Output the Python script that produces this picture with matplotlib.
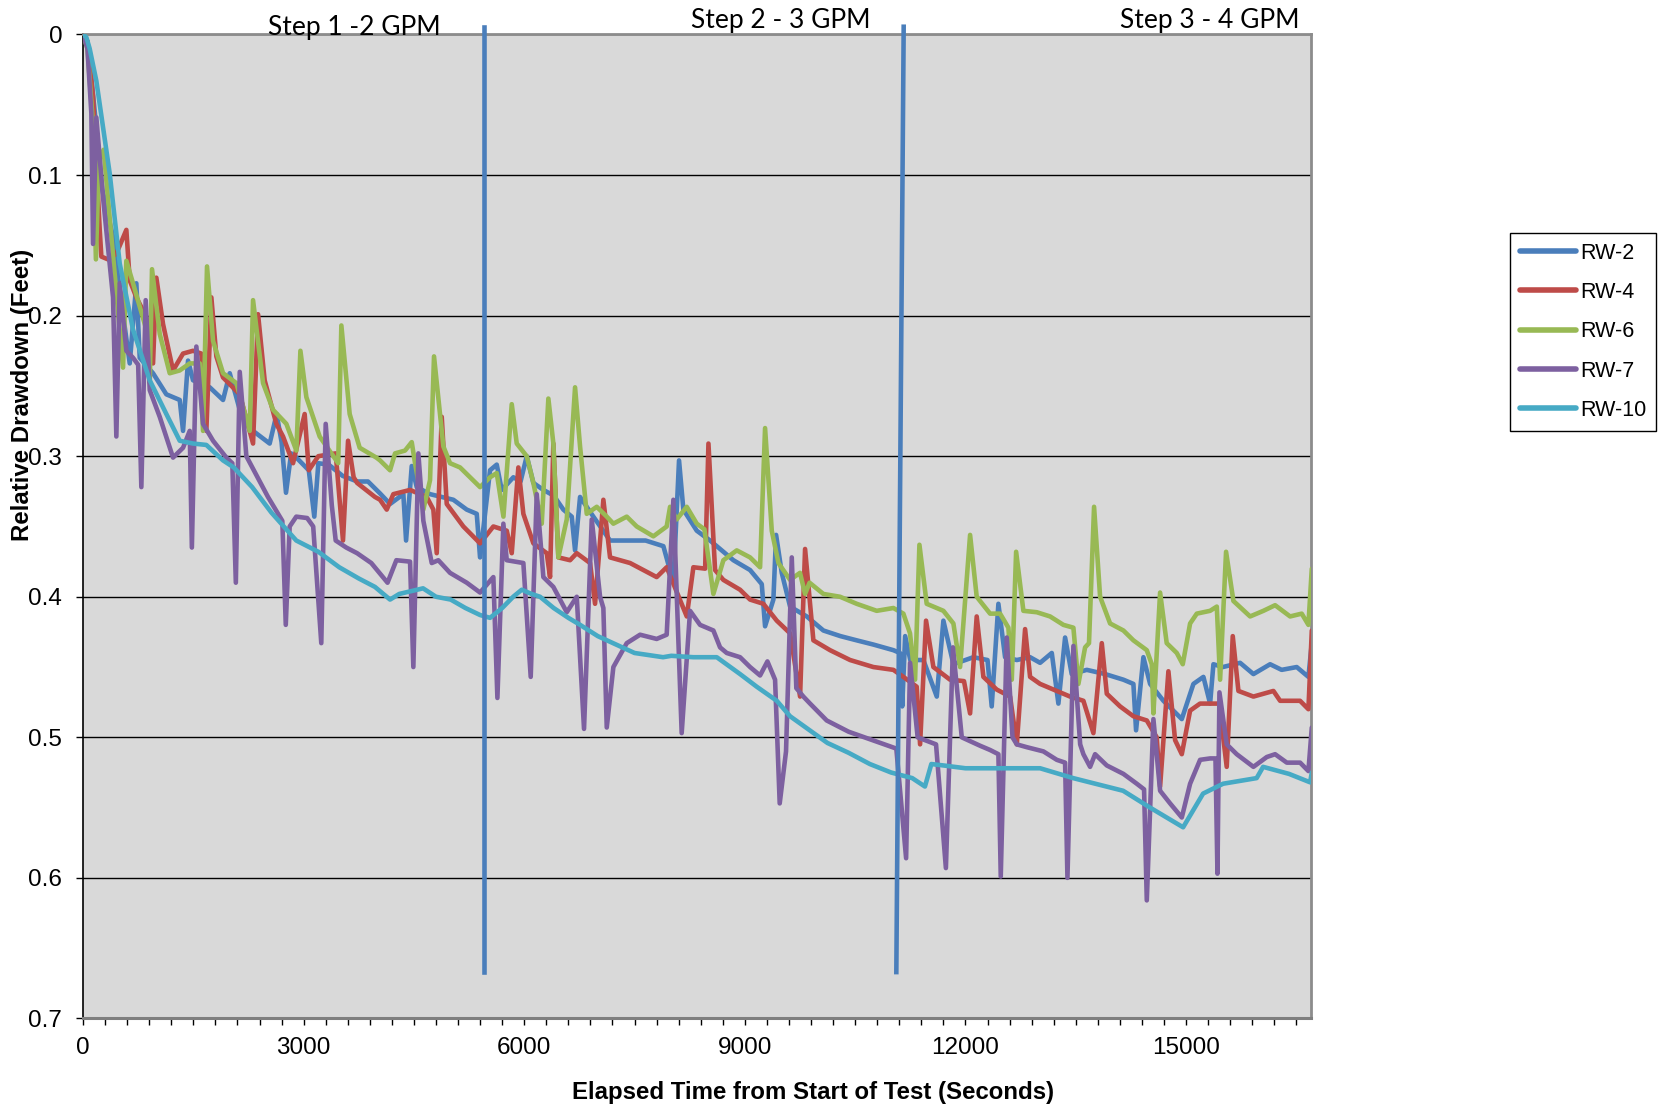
import matplotlib
matplotlib.use("Agg")
import matplotlib.pyplot as plt
from matplotlib.ticker import FixedLocator, MultipleLocator, FuncFormatter

plt.rcParams['font.family'] = ['Liberation Sans', 'DejaVu Sans']

# ---- data (elapsed seconds, relative drawdown in feet) ----
rw2_t = [0, 60, 150, 260, 408, 520, 635, 725, 771, 952, 1133, 1315, 1360, 1428, 1496, 1723, 1904, 1995,
         2131, 2312, 2538, 2633, 2700, 2760, 2830, 2901, 3070, 3145, 3200, 3340, 3530, 3730, 3875, 4039,
         4175, 4356, 4393, 4470, 4538, 4719, 5036, 5218, 5354, 5399, 5535, 5626, 5694, 5852, 5950, 6034,
         6124, 6260, 6400, 6532, 6646, 6691, 6759, 6940, 7167, 7394, 7650, 7892, 8028, 8105, 8164, 8346,
         8527, 8844, 9071, 9230, 9275, 9388, 9425, 9502, 9615, 9842, 10068, 10300, 10521, 10748, 11020,
         11110, 11140, 11180, 11250, 11428, 11610, 11700, 11836, 12108, 12300, 12357, 12448, 12539, 12698,
         12879, 13015, 13174, 13264, 13355, 13445, 13650, 13900, 14148, 14284, 14320, 14420, 14511, 14692,
         14942, 15100, 15236, 15327, 15372, 15500, 15735, 15916, 16143, 16300, 16505, 16664, 16710]
rw2_v = [0, 0.005, 0.05, 0.11, 0.144, 0.19, 0.234, 0.177, 0.23, 0.241, 0.256, 0.26, 0.282, 0.232, 0.246,
         0.251, 0.26, 0.241, 0.267, 0.282, 0.291, 0.27, 0.29, 0.326, 0.298, 0.301, 0.31, 0.343, 0.305, 0.306,
         0.314, 0.318, 0.318, 0.3265, 0.334, 0.327, 0.36, 0.307, 0.322, 0.327, 0.331, 0.338, 0.341, 0.372,
         0.31, 0.306, 0.324, 0.315, 0.318, 0.3, 0.319, 0.324, 0.328, 0.338, 0.343, 0.367, 0.329, 0.343, 0.36,
         0.36, 0.36, 0.364, 0.39, 0.303, 0.338, 0.353, 0.36, 0.374, 0.381, 0.391, 0.421, 0.402, 0.356, 0.383,
         0.407, 0.414, 0.424, 0.428, 0.431, 0.434, 0.438, 0.44, 0.478, 0.428, 0.445, 0.445, 0.471, 0.417,
         0.448, 0.443, 0.445, 0.478, 0.405, 0.443, 0.445, 0.443, 0.447, 0.44, 0.476, 0.429, 0.455, 0.452,
         0.455, 0.459, 0.462, 0.495, 0.443, 0.462, 0.474, 0.487, 0.462, 0.457, 0.476, 0.448, 0.45, 0.447,
         0.455, 0.448, 0.452, 0.45, 0.457, 0.433]

rw4_t = [0, 60, 136, 227, 249, 340, 453, 589, 635, 725, 861, 952, 997, 1088, 1224, 1360, 1496, 1609, 1677,
         1745, 1813, 1904, 2131, 2312, 2380, 2470, 2629, 2720, 2856, 3014, 3070, 3200, 3436, 3535, 3604,
         3680, 3727, 3970, 4039, 4130, 4220, 4447, 4674, 4764, 4810, 4878, 4946, 5172, 5399, 5580, 5762,
         5830, 5920, 5988, 6124, 6306, 6351, 6396, 6464, 6623, 6714, 6895, 6963, 7076, 7167, 7439, 7801,
         7937, 8210, 8300, 8460, 8505, 8595, 8708, 8935, 9071, 9252, 9434, 9615, 9751, 9819, 9932, 10159,
         10431, 10748, 11020, 11156, 11337, 11383, 11464, 11564, 11791, 11980, 12063, 12153, 12244, 12425,
         12607, 12698, 12811, 12879, 13015, 13242, 13423, 13604, 13740, 13854, 13922, 14103, 14284, 14466,
         14601, 14647, 14760, 14851, 14942, 15055, 15190, 15450, 15553, 15635, 15712, 15916, 16188, 16279,
         16550, 16664, 16710]
rw4_v = [0, 0.005, 0.044, 0.139, 0.158, 0.16, 0.156, 0.139, 0.175, 0.187, 0.201, 0.234, 0.173, 0.206, 0.239,
         0.227, 0.225, 0.227, 0.282, 0.187, 0.229, 0.244, 0.256, 0.291, 0.199, 0.246, 0.277, 0.286, 0.305,
         0.27, 0.31, 0.3, 0.298, 0.36, 0.289, 0.315, 0.319, 0.329, 0.331, 0.338, 0.327, 0.324, 0.329, 0.338,
         0.369, 0.272, 0.334, 0.35, 0.362, 0.35, 0.353, 0.369, 0.308, 0.341, 0.362, 0.369, 0.386, 0.291,
         0.372, 0.374, 0.369, 0.376, 0.405, 0.331, 0.372, 0.376, 0.386, 0.379, 0.414, 0.379, 0.38, 0.291,
         0.381, 0.388, 0.395, 0.402, 0.405, 0.417, 0.426, 0.471, 0.366, 0.431, 0.438, 0.445, 0.45, 0.452,
         0.457, 0.464, 0.505, 0.417, 0.45, 0.459, 0.46, 0.483, 0.414, 0.457, 0.466, 0.471, 0.505, 0.423,
         0.457, 0.462, 0.467, 0.471, 0.474, 0.497, 0.433, 0.469, 0.478, 0.485, 0.488, 0.5, 0.535, 0.453,
         0.502, 0.512, 0.481, 0.476, 0.476, 0.521, 0.428, 0.467, 0.471, 0.467, 0.474, 0.474, 0.48, 0.424]

rw6_t = [0, 60, 130, 175, 215, 280, 544, 589, 680, 861, 907, 938, 1043, 1179, 1315, 1451, 1587, 1632, 1686,
         1768, 1904, 2085, 2267, 2312, 2448, 2584, 2765, 2901, 2956, 3037, 3218, 3470, 3513, 3626, 3762,
         3989, 4039, 4175, 4243, 4379, 4470, 4515, 4628, 4719, 4773, 4900, 4991, 5127, 5263, 5399, 5535,
         5626, 5717, 5830, 5898, 6034, 6124, 6238, 6328, 6396, 6464, 6578, 6691, 6759, 6850, 6986, 7122,
         7212, 7394, 7530, 7756, 7937, 7983, 8073, 8210, 8346, 8450, 8572, 8708, 8890, 9071, 9207, 9275,
         9366, 9457, 9615, 9750, 9819, 9880, 10068, 10295, 10521, 10793, 11020, 11156, 11246, 11315, 11374,
         11473, 11700, 11836, 11927, 12063, 12153, 12335, 12471, 12584, 12630, 12689, 12788, 12970, 13151,
         13332, 13468, 13536, 13627, 13680, 13749, 13831, 13967, 14148, 14284, 14466, 14534, 14556, 14647,
         14737, 14874, 14955, 15055, 15146, 15327, 15418, 15463, 15544, 15644, 15871, 16052, 16211, 16415,
         16573, 16664, 16710]
rw6_v = [0, 0.01, 0.06, 0.16, 0.09, 0.082, 0.237, 0.161, 0.177, 0.21, 0.248, 0.167, 0.213, 0.241, 0.239,
         0.234, 0.234, 0.282, 0.165, 0.218, 0.241, 0.248, 0.282, 0.189, 0.248, 0.267, 0.277, 0.296, 0.225,
         0.258, 0.286, 0.305, 0.207, 0.27, 0.294, 0.301, 0.303, 0.31, 0.298, 0.296, 0.29, 0.305, 0.338,
         0.317, 0.229, 0.293, 0.305, 0.308, 0.315, 0.322, 0.315, 0.312, 0.343, 0.263, 0.291, 0.3, 0.319,
         0.348, 0.259, 0.291, 0.372, 0.345, 0.251, 0.293, 0.341, 0.336, 0.343, 0.348, 0.343, 0.35, 0.357,
         0.35, 0.336, 0.345, 0.336, 0.348, 0.352, 0.398, 0.374, 0.367, 0.372, 0.379, 0.28, 0.353, 0.376,
         0.388, 0.383, 0.398, 0.39, 0.398, 0.4, 0.405, 0.41, 0.408, 0.412, 0.426, 0.459, 0.363, 0.405, 0.41,
         0.419, 0.45, 0.356, 0.4, 0.412, 0.412, 0.422, 0.459, 0.368, 0.41, 0.411, 0.414, 0.42, 0.422, 0.462,
         0.436, 0.433, 0.336, 0.4, 0.419, 0.424, 0.431, 0.438, 0.448, 0.483, 0.397, 0.433, 0.44, 0.448,
         0.419, 0.412, 0.41, 0.407, 0.459, 0.368, 0.403, 0.414, 0.41, 0.406, 0.414, 0.412, 0.42, 0.38]

rw7_t = [0, 60, 113, 136, 181, 272, 408, 453, 499, 589, 680, 750, 793, 852, 907, 1043, 1224, 1360, 1451,
         1480, 1541, 1632, 1768, 1949, 2030, 2078, 2131, 2221, 2515, 2710, 2757, 2810, 2900, 3048, 3130,
         3240, 3300, 3383, 3436, 3580, 3727, 3920, 4141, 4261, 4447, 4492, 4560, 4628, 4742, 4832, 4991,
         5218, 5399, 5580, 5635, 5716, 5762, 5988, 6088, 6170, 6260, 6396, 6578, 6714, 6813, 6918, 7031,
         7076, 7122, 7212, 7394, 7575, 7801, 7937, 8028, 8141, 8255, 8391, 8572, 8663, 8754, 8935, 9071,
         9207, 9307, 9411, 9474, 9560, 9638, 9700, 9796, 9887, 10113, 10411, 10844, 11060, 11193, 11247,
         11350, 11600, 11734, 11830, 11950, 12200, 12335, 12448, 12480, 12562, 12640, 12698, 12834, 13060,
         13242, 13355, 13387, 13468, 13560, 13604, 13695, 13763, 13922, 14148, 14330, 14429, 14466, 14556,
         14647, 14783, 14942, 15055, 15191, 15327, 15400, 15427, 15454, 15553, 15689, 15916, 16098, 16211,
         16370, 16551, 16664, 16710]
rw7_v = [0, 0.01, 0.056, 0.149, 0.059, 0.116, 0.187, 0.286, 0.177, 0.225, 0.23, 0.235, 0.322, 0.189, 0.253,
         0.272, 0.301, 0.294, 0.282, 0.365, 0.222, 0.277, 0.289, 0.301, 0.305, 0.39, 0.24, 0.3, 0.329, 0.346,
         0.42, 0.35, 0.343, 0.344, 0.35, 0.433, 0.277, 0.335, 0.36, 0.365, 0.369, 0.376, 0.39, 0.374, 0.375,
         0.45, 0.298, 0.346, 0.376, 0.374, 0.383, 0.39, 0.397, 0.386, 0.472, 0.348, 0.374, 0.376, 0.457,
         0.327, 0.386, 0.393, 0.411, 0.4, 0.494, 0.345, 0.4, 0.408, 0.493, 0.45, 0.433, 0.427, 0.43, 0.427,
         0.331, 0.497, 0.41, 0.42, 0.424, 0.436, 0.44, 0.443, 0.45, 0.456, 0.446, 0.459, 0.547, 0.51, 0.372,
         0.465, 0.471, 0.476, 0.488, 0.496, 0.504, 0.508, 0.586, 0.447, 0.5, 0.505, 0.593, 0.436, 0.5, 0.506,
         0.509, 0.512, 0.599, 0.429, 0.5, 0.505, 0.507, 0.51, 0.516, 0.518, 0.6, 0.435, 0.505, 0.512, 0.521,
         0.512, 0.52, 0.526, 0.533, 0.537, 0.616, 0.487, 0.538, 0.547, 0.557, 0.533, 0.516, 0.515, 0.515,
         0.597, 0.468, 0.505, 0.512, 0.521, 0.514, 0.512, 0.518, 0.518, 0.524, 0.493]

rw10_t = [0, 45, 90, 181, 363, 499, 680, 907, 1133, 1315, 1496, 1677, 1904, 2050, 2300, 2560, 2900, 3200,
          3484, 3750, 3970, 4175, 4300, 4624, 4800, 5000, 5200, 5400, 5535, 5700, 5850, 5966, 6100, 6215,
          6400, 6600, 6760, 7000, 7208, 7500, 7888, 8000, 8300, 8618, 8935, 9162, 9434, 9615, 10123, 10411,
          10700, 10988, 11276, 11449, 11536, 11700, 12000, 12335, 13015, 13464, 14144, 14511, 14960, 15232,
          15504, 15960, 16048, 16400, 16687, 16710]
rw10_v = [0, 0.002, 0.01, 0.033, 0.099, 0.163, 0.21, 0.246, 0.27, 0.289, 0.291, 0.292, 0.303, 0.308, 0.322,
          0.34, 0.36, 0.368, 0.379, 0.387, 0.393, 0.402, 0.398, 0.394, 0.4, 0.402, 0.408, 0.413, 0.415, 0.408,
          0.4, 0.395, 0.398, 0.4, 0.408, 0.415, 0.42, 0.428, 0.433, 0.44, 0.443, 0.442, 0.443, 0.443, 0.455,
          0.464, 0.474, 0.485, 0.504, 0.511, 0.519, 0.525, 0.529, 0.535, 0.519, 0.52, 0.522, 0.522, 0.522,
          0.529, 0.538, 0.55, 0.564, 0.54, 0.533, 0.529, 0.521, 0.526, 0.532, 0.525]

# step change markers (drawn as series, the second one leans slightly)
step1_t = [5455, 5455]
step2_t = [11160, 11060]
step_y = [-0.0055, 0.667]
step_labels = ["Step 1 -2 GPM", "Step 2 - 3 GPM", "Step 3 - 4 GPM"]

series_names = ["RW-2", "RW-4", "RW-6", "RW-7", "RW-10"]
series_colors = ["#4A7EBB", "#BE4B48", "#98B954", "#7D60A0", "#46AAC5"]
series_t = [rw2_t, rw4_t, rw6_t, rw7_t, rw10_t]
series_v = [rw2_v, rw4_v, rw6_v, rw7_v, rw10_v]

yticks = [0, 0.1, 0.2, 0.3, 0.4, 0.5, 0.6, 0.7]
xticks = [0, 3000, 6000, 9000, 12000, 15000]

# ---- plot ----
fig = plt.figure(figsize=(16.64, 11.12), dpi=100)
ax = fig.add_axes([0.0499, 0.0841, 0.7380, 0.8849])
ax.set_facecolor("#D9D9D9")

for name, t, v, c in zip(series_names, series_t, series_v, series_colors):
    ax.plot(t, v, color=c, lw=3.3, label=name, solid_joinstyle='round', solid_capstyle='round', zorder=3)

ax.plot(step1_t, step_y, color="#4A7EBB", lw=3.3, clip_on=False, zorder=5)
ax.plot(step2_t, step_y, color="#4A7EBB", lw=3.3, clip_on=False, zorder=5)

ax.set_xlim(0, 16700)
ax.set_ylim(0.7, 0)

ax.yaxis.set_major_locator(FixedLocator(yticks))
ax.yaxis.set_major_formatter(FuncFormatter(lambda v, p: f"{v:g}"))
ax.xaxis.set_major_locator(FixedLocator(xticks))
ax.xaxis.set_minor_locator(MultipleLocator(300))
ax.yaxis.grid(True, color="black", lw=1.0)
ax.set_axisbelow(True)

ax.tick_params(axis='both', which='both', direction='out', length=5, width=1.0, color='black',
               labelsize=17.5)
ax.tick_params(axis='x', which='major', pad=8)
ax.tick_params(axis='y', which='major', pad=10)

ax.spines['left'].set_color('black')
ax.spines['left'].set_linewidth(1.2)
ax.spines['bottom'].set_color('#7F7F7F')
ax.spines['bottom'].set_linewidth(2.2)
for s in ['top', 'right']:
    ax.spines[s].set_color('#8C8C8C')
    ax.spines[s].set_linewidth(2.0)

fig.text(813 / 1664, 1 - 1093 / 1112, "Elapsed Time from Start of Test (Seconds)",
         ha='center', va='center', fontsize=17.3, fontweight='bold')
fig.text(23 / 1664, 1 - 395 / 1112, "Relative Drawdown (Feet)", rotation=90,
         ha='center', va='center', fontsize=17.3, fontweight='bold')

step_fam = ['Lato', 'DejaVu Sans']
fig.text(354 / 1664, 1 - 35 / 1112, step_labels[0], ha='center', va='baseline', fontsize=19, family=step_fam)
fig.text(781 / 1664, 1 - 28 / 1112, step_labels[1], ha='center', va='baseline', fontsize=19, family=step_fam)
fig.text(1210 / 1664, 1 - 28 / 1112, step_labels[2], ha='center', va='baseline', fontsize=19, family=step_fam)

leg = fig.legend(loc='upper left', bbox_to_anchor=(1510 / 1664, 1 - 233 / 1112), borderaxespad=0,
                 fancybox=False, edgecolor='black', framealpha=1, fontsize=15.5, handlelength=2.6,
                 handletextpad=0.2, labelspacing=0.85, borderpad=0.45)
leg.get_frame().set_linewidth(1.0)
for line in leg.get_lines():
    line.set_linewidth(4.0)

fig.savefig("out.png", dpi=100)
